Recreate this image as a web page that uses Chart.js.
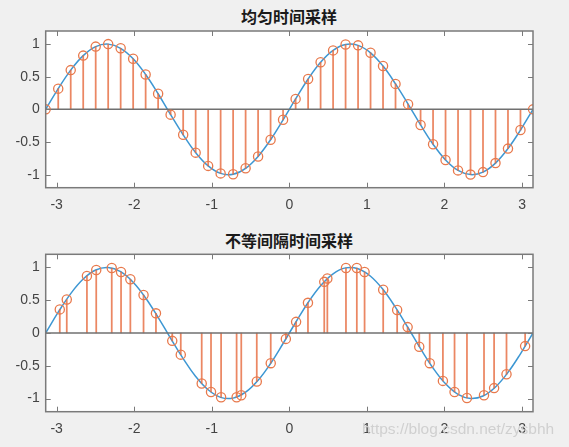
<!DOCTYPE html>
<html lang="zh">
<head>
<meta charset="UTF-8" />
<title>均匀与不等间隔时间采样</title>
<script src="https://cdn.jsdelivr.net/npm/chart.js"></script>
<style>
  body {
    margin: 0;
    background: #f0f0f0;
    width: 569px;
    height: 447px;
    position: relative;
    overflow: hidden;
  }
  canvas { position: absolute; left: 0; }
  #top { top: 0; }
  #bottom { top: 222px; }
  .title {
    position: absolute;
    left: 45px;
    width: 488px;
    text-align: center;
    font-family: 'Noto Sans CJK SC', sans-serif;
    font-weight: bold;
    font-size: 16px;
    line-height: 20px;
    color: #1a1a1a;
  }
  #mark {
    position: absolute;
    left: 362px;
    top: 420px;
    font-family: 'Liberation Sans', Arial, sans-serif;
    font-size: 15.5px;
    color: #d0d0d0;
  }
</style>
</head>
<body>
  <div class="title" style="top:6px">均匀时间采样</div>
  <div class="title" style="top:230px">不等间隔时间采样</div>
  <canvas id="top" width="569" height="222"></canvas>
  <canvas id="bottom" width="569" height="225"></canvas>
  <div id="mark">https://blog.csdn.net/zysbhh</div>

<script>
  // axis ticks / limits
  const xTicks = [-3, -2, -1, 0, 1, 2, 3];
  const yTicks = [-1, -0.5, 0, 0.5, 1];
  const xLimits = [-3.1416, 3.1416];
  const yLimits = [-1.2, 1.2];
  const baseLine = [0, 0];

  // uniform samples (also used for the continuous curve)
  const uniformX = [-3.142, -2.980, -2.819, -2.658, -2.497, -2.336, -2.175, -2.014, -1.853, -1.692,
                    -1.531, -1.369, -1.208, -1.047, -0.886, -0.725, -0.564, -0.403, -0.242, -0.081,
                     0.081,  0.242,  0.403,  0.564,  0.725,  0.886,  1.047,  1.208,  1.369,  1.531,
                     1.692,  1.853,  2.014,  2.175,  2.336,  2.497,  2.658,  2.819,  2.980,  3.142];
  const uniformY = [0, 0.317, 0.601, 0.823, 0.961, 0.999, 0.935, 0.775, 0.534, 0.239,
                    -0.081, -0.390, -0.663, -0.866, -0.981, -0.993, -0.903, -0.721, -0.465, -0.160,
                    0.160, 0.465, 0.721, 0.903, 0.993, 0.980, 0.866, 0.663, 0.390, 0.080,
                    -0.239, -0.534, -0.775, -0.935, -0.999, -0.961, -0.823, -0.601, -0.317, 0];

  // non-uniform samples
  const unevenX = [-2.96, -2.87, -2.61, -2.49, -2.29, -2.17, -2.05, -1.88, -1.72, -1.51,
                   -1.40, -1.13, -1.01, -0.88, -0.68, -0.62, -0.42, -0.24, -0.045, 0.087,
                    0.24,  0.45,  0.49,  0.73,  0.87,  0.97,  1.21,  1.39,  1.525, 1.675,
                    1.81,  1.98,  2.13,  2.29,  2.51,  2.64,  2.80,  3.04];
  const unevenY = [0.36, 0.51, 0.87, 0.96, 0.99, 0.93, 0.82, 0.58, 0.30, -0.12,
                   -0.33, -0.77, -0.90, -0.98, -0.98, -0.95, -0.74, -0.46, -0.09, 0.17,
                   0.46, 0.78, 0.83, 0.99, 0.99, 0.93, 0.66, 0.35, 0.09, -0.21,
                   -0.46, -0.73, -0.90, -0.99, -0.95, -0.84, -0.63, -0.20];

  const pts = (xs, ys) => xs.map((x, i) => ({ x: x, y: ys[i] }));

  // white plot area, box and inward ticks like matlab axes
  const boxPlugin = {
    id: 'box',
    beforeDatasetsDraw(chart) {
      const a = chart.chartArea, ctx = chart.ctx;
      ctx.save();
      ctx.fillStyle = '#ffffff';
      ctx.fillRect(a.left, a.top, a.right - a.left, a.bottom - a.top);
      ctx.restore();
    },
    afterDatasetsDraw(chart) {
      const a = chart.chartArea, ctx = chart.ctx;
      const len = 5;
      ctx.save();
      ctx.strokeStyle = '#7a7a7a';
      ctx.lineWidth = 1;
      ctx.beginPath();
      xTicks.forEach(v => {
        const px = Math.round(chart.scales.x.getPixelForValue(v)) + 0.5;
        ctx.moveTo(px, a.bottom); ctx.lineTo(px, a.bottom - len);
        ctx.moveTo(px, a.top); ctx.lineTo(px, a.top + len);
      });
      yTicks.forEach(v => {
        const py = Math.round(chart.scales.y.getPixelForValue(v)) + 0.5;
        ctx.moveTo(a.left, py); ctx.lineTo(a.left + len, py);
        ctx.moveTo(a.right, py); ctx.lineTo(a.right - len, py);
      });
      ctx.stroke();
      ctx.lineWidth = 1.5;
      ctx.strokeRect(a.left, a.top, a.right - a.left, a.bottom - a.top);
      ctx.restore();
    }
  };

  function makeChart(id, sx, sy, padTop, xAxisH) {
    const tickFont = { family: "'Liberation Sans', Arial, sans-serif", size: 14 };
    return new Chart(document.getElementById(id), {
      type: 'bar',
      data: {
        datasets: [
          {
            type: 'line',
            data: pts(uniformX, uniformY),
            borderColor: '#3d97d3',
            borderWidth: 1.5,
            pointRadius: 0,
            tension: 0.4,
            order: 4
          },
          {
            type: 'bar',
            data: pts(sx, sy),
            backgroundColor: 'rgba(230,105,60,0.8)',
            barThickness: 1.1,
            order: 3
          },
          {
            type: 'line',
            data: pts(xLimits, baseLine),
            borderColor: '#707070',
            borderWidth: 1.5,
            pointRadius: 0,
            order: 2
          },
          {
            type: 'line',
            data: pts(sx, sy),
            showLine: false,
            pointRadius: 4.6,
            pointBorderWidth: 1.3,
            pointBorderColor: '#e8794c',
            pointBackgroundColor: 'rgba(0,0,0,0)',
            order: 1
          }
        ]
      },
      options: {
        responsive: false,
        animation: false,
        layout: { padding: { top: padTop, right: 36, left: 0, bottom: 0 } },
        plugins: { legend: { display: false }, tooltip: { enabled: false } },
        scales: {
          x: {
            type: 'linear',
            min: xLimits[0],
            max: xLimits[1],
            offset: false,
            grid: { display: false, drawTicks: false },
            border: { display: false },
            afterBuildTicks: s => { s.ticks = xTicks.map(v => ({ value: v })); },
            afterFit: s => { s.height = xAxisH; },
            ticks: { padding: 9, font: tickFont, color: '#444444', maxRotation: 0, callback: v => String(v) }
          },
          y: {
            min: yLimits[0],
            max: yLimits[1],
            grid: { display: false, drawTicks: false },
            border: { display: false },
            afterBuildTicks: s => { s.ticks = yTicks.map(v => ({ value: v })); },
            afterFit: s => { s.width = 45.7; },
            ticks: { padding: 6, font: tickFont, color: '#444444', callback: v => String(v) }
          }
        }
      },
      plugins: [boxPlugin]
    });
  }

  makeChart('top', uniformX, uniformY, 31, 34.3);
  makeChart('bottom', unevenX, unevenY, 32.3, 35.3);
</script>
</body>
</html>
